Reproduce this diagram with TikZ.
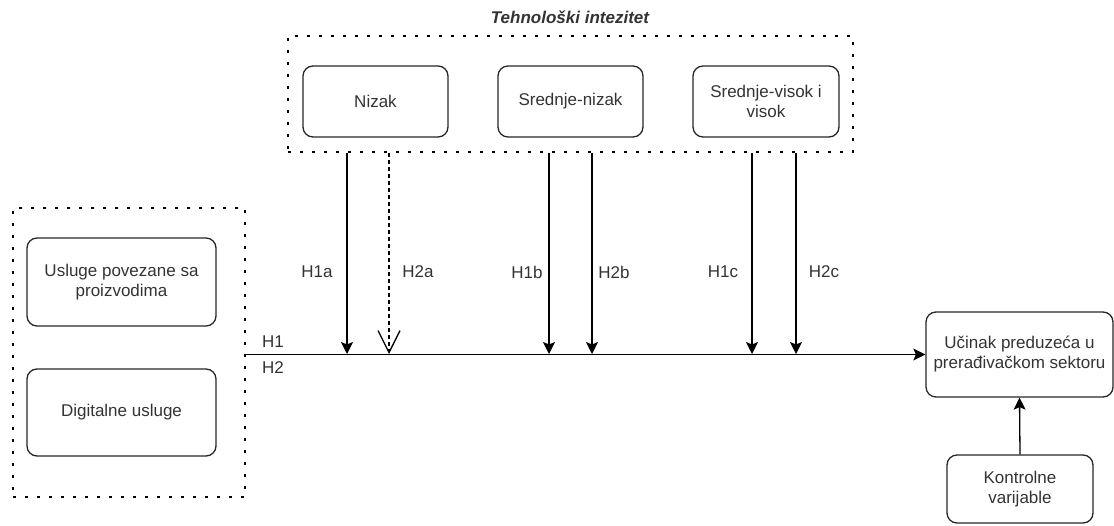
\documentclass[tikz,border=0pt]{standalone}
\usepackage{fontspec}
\setmainfont{Liberation Sans}
\usetikzlibrary{arrows.meta}
\definecolor{txt}{RGB}{51,51,51}
\begin{document}
\begin{tikzpicture}[x=1pt,y=-1pt,
  every node/.style={font=\fontsize{17}{20}\selectfont, text=txt},
  rbox/.style={draw=black!85, line width=1.3pt, rounded corners=10pt, align=center, inner sep=0pt},
  group/.style={draw=black, line width=2.6pt, dash pattern=on 2.6pt off 9.4pt, inner sep=0pt},
  arr/.style={draw=black, line width=1.3pt, -{Stealth[length=12pt,width=12pt,inset=2.5pt]}},
  darr/.style={draw=black, line width=1.1pt, dash pattern=on 4pt off 3pt, -{Straight Barb[length=22pt,width=22pt,line width=1.3pt]}},
  lbl/.style={inner sep=0pt}
]
\useasboundingbox (0,0) rectangle (1114,526);

% technology intensity group
\node[lbl, font=\bfseries\itshape\fontsize{17}{20}\selectfont] (title) at (570,17) {Tehnološki intezitet};
\node[group, minimum width=565pt, minimum height=116pt] (tech) at (570.5,94) {};
\node[rbox, minimum width=145pt, minimum height=71pt] (low) at (375.5,101.5) {Nizak};
\node[rbox, minimum width=145pt, minimum height=71pt] (midlow) at (570.5,101.5) {Srednje-nizak};
\node[rbox, minimum width=146pt, minimum height=71pt] (midhigh) at (766,101.5) {Srednje-visok i\\visok};

% services group
\node[group, minimum width=232pt, minimum height=289pt] (svc) at (129,352.5) {};
\node[rbox, minimum width=189pt, minimum height=88pt] (prod) at (121.5,282) {Usluge povezane sa\\proizvodima};
\node[rbox, minimum width=189pt, minimum height=87pt] (dig) at (121.5,412.5) {Digitalne usluge};

% outcome and controls
\node[rbox, minimum width=187pt, minimum height=85pt] (perf) at (1019.5,354.5) {Učinak preduzeća u\\prerađivačkom sektoru};
\node[rbox, minimum width=146pt, minimum height=68pt] (ctrl) at (1020,489) {Kontrolne\\varijable};

% main relationship
\draw[arr] (perf.west -| svc.east) -- (perf.west);
\node[lbl] (h1) at (273,342) {H1};
\node[lbl] (h2) at (273,368) {H2};

% moderation points on the main line
\coordinate (p1a) at (347,354);
\coordinate (p2a) at (389,354);
\coordinate (p1b) at (549,354);
\coordinate (p2b) at (592,354);
\coordinate (p1c) at (752,354);
\coordinate (p2c) at (796,354);

\draw[arr]  (p1a |- tech.south) -- (p1a);
\draw[darr] (p2a |- tech.south) -- (p2a);
\draw[arr]  (p1b |- tech.south) -- (p1b);
\draw[arr]  (p2b |- tech.south) -- (p2b);
\draw[arr]  (p1c |- tech.south) -- (p1c);
\draw[arr]  (p2c |- tech.south) -- (p2c);

\node[lbl] (l1a) at (317,272) {H1a};
\node[lbl] (l2a) at (418,272) {H2a};
\node[lbl] (l1b) at (527,272) {H1b};
\node[lbl] (l2b) at (614,272) {H2b};
\node[lbl] (l1c) at (723,272) {H1c};
\node[lbl] (l2c) at (824,272) {H2c};

% control variables
\draw[arr] (ctrl.north) -- (perf.south);
\end{tikzpicture}
\end{document}
